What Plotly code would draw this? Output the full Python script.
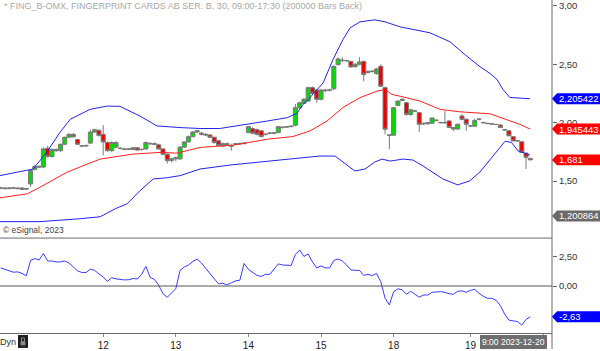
import plotly.graph_objects as go

# ---------------- data ----------------
first_bar = -24  # bar index of first visible 30-min bar (Dec 8 afternoon); Dec 12 09:00 = 0
opens = [1.44,1.44,1.435,1.44,1.44,1.44,1.43,1.475,1.60,1.625,1.62,1.78,1.71,1.77,1.76,1.815,1.875,1.90,1.855,1.80,1.80,1.825,1.92,1.935,
         1.90,1.83,1.76,1.79,1.78,1.775,1.77,1.77,1.785,1.77,1.775,1.82,1.82,1.81,1.775,1.73,1.675,1.69,1.69,1.79,1.835,1.88,1.92,1.91,1.90,1.895,
         1.875,1.845,1.80,1.82,1.80,1.815,1.82,1.82,1.915,1.95,1.94,1.93,1.90,1.91,1.91,1.915,1.96,1.962,1.966,1.978,2.128,2.165,2.185,2.30,
         2.28,2.20,2.28,2.275,2.29,2.497,2.534,2.53,2.525,2.48,2.50,2.525,2.43,2.44,2.42,2.483,2.30,1.895,1.893,2.148,2.19,2.171,2.07,2.10,
         2.086,1.995,1.99,1.996,2.02,2.00,2.00,2.015,1.958,1.945,2.057,2.03,1.972,1.97,2.03,2.00,1.995,1.99,1.985,1.98,1.94,1.93,1.88,1.845,
         1.836,1.739,1.694]
highs = [1.45,1.45,1.445,1.45,1.445,1.445,1.44,1.60,1.64,1.635,1.79,1.80,1.78,1.78,1.82,1.88,1.91,1.91,1.86,1.81,1.81,1.94,1.95,1.94,
         1.98,1.84,1.84,1.84,1.79,1.785,1.78,1.79,1.79,1.78,1.84,1.835,1.83,1.82,1.78,1.735,1.70,1.71,1.80,1.84,1.89,1.93,1.94,1.92,1.91,1.90,
         1.88,1.85,1.83,1.83,1.82,1.825,1.83,1.83,1.97,1.96,1.95,1.935,1.91,1.915,1.92,1.97,1.97,1.97,1.975,2.16,2.18,2.21,2.31,2.31,
         2.29,2.29,2.29,2.29,2.49,2.56,2.56,2.54,2.53,2.51,2.56,2.53,2.445,2.45,2.47,2.50,2.31,1.90,2.13,2.19,2.21,2.18,2.12,2.11,
         2.09,2.00,2.005,2.045,2.03,2.01,2.10,2.02,1.96,1.99,2.075,2.035,1.98,2.03,2.035,2.01,2.00,1.995,1.99,1.985,1.945,1.935,1.885,1.85,
         1.84,1.745,1.70]
lows = [1.43,1.43,1.43,1.435,1.43,1.425,1.425,1.45,1.59,1.61,1.61,1.70,1.70,1.75,1.75,1.81,1.87,1.87,1.81,1.79,1.79,1.82,1.91,1.88,
        1.72,1.75,1.75,1.78,1.77,1.765,1.765,1.765,1.76,1.76,1.77,1.81,1.81,1.77,1.72,1.65,1.66,1.67,1.68,1.785,1.83,1.875,1.91,1.89,1.885,1.87,
        1.82,1.80,1.79,1.81,1.76,1.81,1.81,1.815,1.91,1.90,1.89,1.875,1.89,1.90,1.90,1.91,1.95,1.955,1.96,1.97,2.12,2.16,2.18,2.24,
        2.17,2.19,2.26,2.27,2.28,2.49,2.52,2.52,2.47,2.47,2.49,2.355,2.42,2.43,2.41,2.31,1.90,1.773,1.89,2.14,2.185,2.06,2.06,2.09,
        1.92,1.98,1.985,1.99,2.01,1.995,1.99,1.955,1.93,1.94,2.02,1.93,1.965,1.965,2.02,1.995,1.99,1.985,1.98,1.955,1.93,1.885,1.84,1.84,
        1.74,1.603,1.68]
closes = [1.44,1.435,1.44,1.44,1.435,1.43,1.435,1.59,1.625,1.62,1.775,1.71,1.77,1.76,1.815,1.875,1.90,1.88,1.815,1.80,1.805,1.92,1.94,1.89,
          1.835,1.76,1.83,1.83,1.78,1.77,1.775,1.785,1.765,1.77,1.83,1.82,1.815,1.775,1.73,1.675,1.69,1.70,1.79,1.835,1.88,1.92,1.93,1.90,1.895,1.875,
          1.83,1.805,1.82,1.815,1.80,1.82,1.82,1.825,1.966,1.91,1.90,1.882,1.90,1.91,1.912,1.966,1.96,1.966,1.97,2.128,2.17,2.20,2.30,2.25,
          2.20,2.28,2.275,2.28,2.483,2.546,2.534,2.532,2.478,2.50,2.52,2.412,2.44,2.44,2.46,2.312,1.944,1.893,2.128,2.185,2.20,2.071,2.11,2.10,
          1.986,1.99,2.00,2.04,2.02,2.00,2.00,1.958,1.945,1.987,2.029,1.987,1.972,2.02,2.03,2.00,1.992,1.988,1.984,1.958,1.938,1.887,1.844,1.844,
          1.745,1.703,1.681]

# Bollinger bands / average read at points along the curves (bar index, price)
upper_idx = [-24.2,-17.8,-16.4,-13.2,-10.1,-7.7,-4.7,-3.1,0.9,3.9,8.6,12.6,18.0,22.7,27.3,30.4,34.4,38.4,43.1,45.4,46.8,48.4,51.5,
             53.8,56.1,57.8,60.1,63.6,66.0,69.5,76.5,81.2,84.7,88.2,90.6,92.2,93.6,95.2,99.9]
upper_val = [1.546,1.588,1.603,1.748,1.918,2.029,2.088,2.114,2.142,2.140,2.057,1.972,1.958,1.950,1.950,1.967,1.986,2.014,2.043,
             2.080,2.157,2.214,2.341,2.540,2.710,2.812,2.864,2.881,2.864,2.821,2.770,2.693,2.583,2.480,2.421,2.370,2.284,2.216,2.205]
mid_idx = [-24.2,-17.8,-14.8,-8.5,-4.7,-0.7,7.0,13.3,17.3,22.7,30.4,38.4,44.4,48.4,52.4,56.1,60.1,64.1,66.0,67.6,69.5,74.2,
           78.9,83.5,90.6,95.2,97.5,100.0]
mid_val = [1.356,1.390,1.447,1.575,1.631,1.688,1.731,1.745,1.739,1.788,1.807,1.858,1.881,1.929,2.014,2.129,2.214,2.270,2.284,
           2.242,2.227,2.185,2.114,2.093,2.076,2.014,1.986,1.945]
lower_idx = [-24.2,-14.8,-5.4,-0.7,2.8,5.6,8.6,11.7,14.5,18.0,22.7,29.7,36.7,44.4,50.7,54.3,56.6,58.9,61.3,63.6,65.3,67.2,70.2,
             72.5,74.9,79.5,83.0,85.8,88.2,90.6,92.2,94.1,95.6,97.1,99.9]
lower_val = [1.152,1.152,1.177,1.194,1.262,1.305,1.416,1.518,1.526,1.546,1.603,1.637,1.663,1.688,1.714,1.714,1.646,1.586,1.603,
             1.663,1.688,1.671,1.688,1.680,1.629,1.518,1.467,1.501,1.577,1.688,1.756,1.841,1.830,1.759,1.722]

# lower oscillator, one value per bar
osc = [1.55,1.42,1.25,1.18,1.21,1.08,0.87,2.19,2.34,2.23,2.78,2.14,2.14,2.06,2.06,2.14,1.97,1.65,1.29,1.16,1.16,1.44,1.34,1.04,
       0.78,0.40,0.71,0.61,0.55,0.52,0.54,0.64,0.60,1.0,1.68,0.74,0.57,0.06,-0.66,-0.96,-0.58,-0.24,1.34,1.63,1.80,2.10,2.31,1.97,
       1.51,1.08,0.57,0.19,0.23,0.10,0.27,0.44,0.50,1.93,1.42,1.16,0.91,0.82,1.0,1.0,1.42,1.89,1.80,1.76,1.76,2.70,3.08,2.53,2.74,
       2.06,1.55,1.72,1.55,1.55,2.19,2.31,2.14,1.80,1.38,1.34,1.34,0.91,1.0,0.89,1.08,0.36,-1.05,-1.62,-0.49,-0.24,-0.32,-0.71,
       -0.45,-0.71,-0.96,-0.77,-0.77,-0.54,-0.48,-0.48,-0.54,-0.66,-0.71,-0.45,-0.41,-0.54,-0.37,-0.28,-0.62,-0.88,-1.05,-1.05,
       -1.22,-1.68,-2.41,-2.92,-2.98,-3.04,-3.34,-2.87,-2.63]

day_ticks = [0, 17, 34, 51, 68, 86, 103]
day_labels = ["12", "13", "14", "15", "18", "19", ""]

main_ticks = [1.5, 2.0, 2.5, 3.0]
osc_ticks = [0.0, 2.5]

tag_values = [2.205422, 1.945443, 1.681, 1.200864]
tag_texts = ["2,205422", "1,945443", "1,681", "1,200864"]
tag_colors = ["#0000ff", "#ff0000", "#ff0000", "#6a6a6a"]
osc_tag_value = -2.63
osc_tag_text = "-2,63"

title_text = "* FING_B-OMX, FINGERPRINT CARDS AB SER. B, 30, 09:00-17:30 (200000 Bars Back)"
last_time_text = "9:00 2023-12-20"

# ---------------- figure ----------------
FONT = "Liberation Sans, Arial, sans-serif"
W, H = 600, 351
ML, MR, MT, MB = 0, 48, 0, 16
PW, PH = W - ML - MR, H - MT - MB

def px_x(px):
    return (px - ML) / PW

def px_y(py):
    return (H - MB - py) / PH

bars = list(range(first_bar, first_bar + len(closes)))

fig = go.Figure()
fig.add_trace(go.Scatter(x=upper_idx, y=upper_val, mode="lines", line=dict(color="#2424e8", width=1),
                         xaxis="x", yaxis="y", hoverinfo="skip"))
fig.add_trace(go.Scatter(x=lower_idx, y=lower_val, mode="lines", line=dict(color="#2424e8", width=1),
                         xaxis="x", yaxis="y", hoverinfo="skip"))
fig.add_trace(go.Scatter(x=mid_idx, y=mid_val, mode="lines", line=dict(color="#ff2020", width=1),
                         xaxis="x", yaxis="y", hoverinfo="skip"))
fig.add_trace(go.Candlestick(x=bars, open=opens, high=highs, low=lows, close=closes,
                             increasing=dict(fillcolor="#00dd00", line=dict(color="#7a7a7a", width=1)),
                             decreasing=dict(fillcolor="#ee0000", line=dict(color="#7a7a7a", width=1)),
                             whiskerwidth=0, xaxis="x", yaxis="y"))
fig.add_trace(go.Scatter(x=bars, y=osc, mode="lines", line=dict(color="#3a3aff", width=1),
                         xaxis="x", yaxis="y2", hoverinfo="skip"))

y_main_top = 3.051
y_main_bot = 1.013
y_osc_top = 4.06
y_osc_bot = -4.02

axis_font = dict(family=FONT, size=9.5, color="#333")
fig.update_layout(
    width=W, height=H, margin=dict(l=ML, r=MR, t=MT, b=MB),
    paper_bgcolor="white", plot_bgcolor="white", showlegend=False,
    separators=",.", boxgap=0.05, boxgroupgap=0,
    xaxis=dict(domain=[0, 1], range=[-24.16, 105.08], anchor="y2", tickvals=day_ticks, ticktext=day_labels,
               ticks="outside", ticklen=3, tickcolor="#888", showline=True, linecolor="#6a6a6a", linewidth=1,
               showgrid=False, zeroline=False, rangeslider=dict(visible=False),
               tickfont=dict(family=FONT, size=10, color="#222")),
    yaxis=dict(domain=[px_y(239.3), 1], range=[y_main_bot, y_main_top], side="right", anchor="x",
               tickvals=main_ticks, tickformat=".2f", ticks="outside", ticklen=4, tickcolor="#666",
               showline=False, showgrid=False, zeroline=False, tickfont=axis_font),
    yaxis2=dict(domain=[0, px_y(240)], range=[y_osc_bot, y_osc_top], side="right", anchor="x",
                tickvals=osc_ticks, tickformat=".2f", ticks="outside", ticklen=4, tickcolor="#666",
                showline=False, showgrid=False, zeroline=False, tickfont=axis_font),
)

shapes = []
# right vertical border
shapes.append(dict(type="line", xref="paper", yref="paper", x0=1, x1=1, y0=px_y(351), y1=1,
                   line=dict(color="#6a6a6a", width=1)))
# panel separator
shapes.append(dict(type="line", xref="paper", yref="paper", x0=0, x1=1, y0=px_y(239.5), y1=px_y(239.5),
                   line=dict(color="#6a6a6a", width=1)))
# zero line in oscillator
shapes.append(dict(type="line", xref="paper", yref="y2", x0=0, x1=1, y0=0, y1=0,
                   line=dict(color="#555", width=1)))

def tag_shape(value, color, yref, half):
    x0 = 1.0
    x1 = 1.0 + 5 / PW
    x2 = 1.0 + MR / PW
    path = (f"M {x0},{value} L {x1},{value + half} L {x2},{value + half} "
            f"L {x2},{value - half} L {x1},{value - half} Z")
    return dict(type="path", xref="paper", yref=yref, path=path, fillcolor=color,
                line=dict(color=color, width=0), layer="above")

annotations = []
half_main = 5.5 * (y_main_top - y_main_bot) / (239.3)
for v, t, c in zip(tag_values, tag_texts, tag_colors):
    shapes.append(tag_shape(v, c, "y", half_main))
    annotations.append(dict(x=1.0 + 5 / PW, y=v, xref="paper", yref="y", text=t, showarrow=False,
                            xanchor="left", yanchor="middle", font=dict(family=FONT, size=9.5, color="white")))
half_osc = 5.5 * (y_osc_top - y_osc_bot) / (335 - 240)
shapes.append(tag_shape(osc_tag_value, "#0000ff", "y2", half_osc))
annotations.append(dict(x=1.0 + 5 / PW, y=osc_tag_value, xref="paper", yref="y2", text=osc_tag_text,
                        showarrow=False, xanchor="left", yanchor="middle",
                        font=dict(family=FONT, size=9.5, color="white")))

# bottom-left lock icon
shapes.append(dict(type="rect", xref="paper", yref="paper", x0=px_x(18), x1=px_x(28), y0=px_y(350), y1=px_y(337),
                   fillcolor="#1e1e1e", line=dict(width=0)))
shapes.append(dict(type="rect", xref="paper", yref="paper", x0=px_x(20.5), x1=px_x(25.5), y0=px_y(347.5), y1=px_y(343.5),
                   fillcolor="#8a8a8a", line=dict(width=0)))
shapes.append(dict(type="rect", xref="paper", yref="paper", x0=px_x(21.5), x1=px_x(24.5), y0=px_y(343.5), y1=px_y(340),
                   fillcolor="rgba(0,0,0,0)", line=dict(color="#8a8a8a", width=1)))
# last time box
shapes.append(dict(type="rect", xref="paper", yref="paper", x0=px_x(480), x1=px_x(547), y0=px_y(351), y1=px_y(337),
                   fillcolor="#6e6e6e", line=dict(width=0)))

annotations += [
    dict(x=px_x(2), y=px_y(6), xref="paper", yref="paper", text=title_text, showarrow=False,
         xanchor="left", yanchor="middle", font=dict(family=FONT, size=9, color="#a8a8a8")),
    dict(x=px_x(1), y=px_y(231), xref="paper", yref="paper", text="© eSignal, 2023", showarrow=False,
         xanchor="left", yanchor="middle", font=dict(family=FONT, size=8.5, color="#444")),
    dict(x=px_x(-1), y=px_y(344), xref="paper", yref="paper", text="Dyn", showarrow=False,
         xanchor="left", yanchor="middle", borderpad=0, font=dict(family=FONT, size=9, color="#333")),
    dict(x=px_x(513.5), y=px_y(344), xref="paper", yref="paper", text=last_time_text, showarrow=False,
         xanchor="center", yanchor="middle", font=dict(family=FONT, size=8.5, color="white")),
]

fig.update_layout(shapes=shapes, annotations=annotations)
fig.write_html("out.html")
